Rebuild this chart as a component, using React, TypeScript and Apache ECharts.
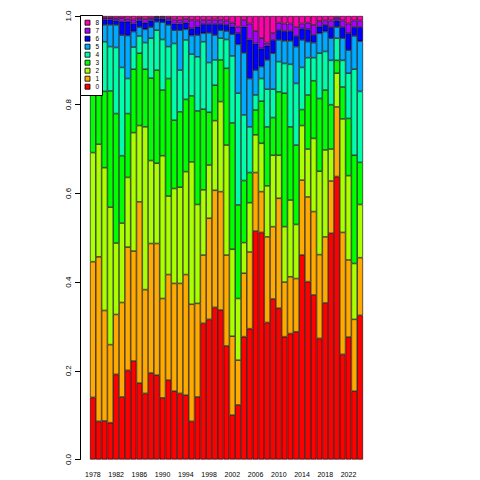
import React, { useEffect, useRef } from "react";
import * as echarts from "echarts";

const years = ["1978","1979","1980","1981","1982","1983","1984","1985","1986","1987","1988","1989","1990","1991","1992","1993","1994","1995","1996","1997","1998","1999","2000","2001","2002","2003","2004","2005","2006","2007","2008","2009","2010","2011","2012","2013","2014","2015","2016","2017","2018","2019","2020","2021","2022","2023","2024"];
const groups = ["0","1","2","3","4","5","6","7","8"];
const colors = ["#FF0000","#FFAA00","#AAFF00","#00FF00","#00FFAA","#00AAFF","#0000FF","#AA00FF","#FF00AA"];
const yTickLabels = ["0.0","0.2","0.4","0.6","0.8","1.0"];

const share0 = [.140,.086,.087,.083,.192,.141,.201,.222,.172,.149,.195,.190,.139,.179,.154,.149,.145,.086,.141,.307,.316,.343,.337,.256,.100,.123,.277,.295,.515,.512,.309,.362,.341,.277,.284,.288,.461,.401,.371,.273,.353,.510,.638,.237,.276,.154,.325];
const share1 = [.306,.371,.249,.176,.135,.213,.278,.248,.409,.234,.292,.297,.224,.238,.243,.248,.272,.264,.211,.154,.228,.264,.267,.205,.178,.101,.143,.173,.132,.092,.193,.163,.248,.123,.128,.120,.169,.191,.188,.189,.149,.118,.157,.275,.174,.162,.130];
const share2 = [.246,.254,.322,.310,.161,.179,.157,.267,.172,.367,.187,.181,.322,.177,.214,.217,.232,.321,.223,.147,.120,.157,.203,.248,.196,.139,.069,.111,.085,.109,.115,.161,.097,.125,.173,.122,.123,.108,.165,.188,.196,.072,.076,.256,.190,.126,.120];
const share3 = [.178,.149,.172,.262,.292,.152,.144,.143,.163,.130,.186,.210,.148,.265,.154,.170,.163,.149,.211,.182,.119,.080,.094,.173,.285,.211,.140,.068,.056,.095,.133,.085,.143,.301,.165,.179,.036,.122,.130,.164,.135,.100,.029,.072,.129,.244,.095];
const share4 = [.065,.070,.112,.100,.149,.199,.079,.050,.039,.060,.090,.090,.114,.072,.173,.094,.134,.094,.122,.152,.112,.057,.049,.065,.151,.252,.148,.103,.034,.051,.085,.064,.068,.067,.141,.139,.095,.084,.052,.102,.087,.100,.050,.060,.102,.194,.160];
const share5 = [.040,.040,.038,.049,.051,.073,.097,.035,.020,.030,.025,.019,.039,.049,.030,.090,.024,.042,.049,.019,.067,.056,.018,.019,.049,.110,.140,.109,.056,.027,.066,.081,.049,.051,.053,.083,.062,.036,.034,.045,.045,.050,.025,.050,.052,.075,.113];
const share6 = [.013,.015,.012,.012,.010,.030,.031,.018,.015,.015,.015,.008,.008,.010,.015,.015,.015,.016,.019,.021,.020,.025,.014,.014,.017,.025,.059,.088,.060,.041,.032,.030,.022,.022,.022,.024,.026,.028,.017,.015,.015,.025,.015,.025,.038,.020,.032];
const share7 = [.007,.008,.004,.004,.005,.008,.007,.009,.005,.008,.005,.003,.003,.005,.009,.008,.008,.019,.014,.009,.009,.010,.009,.010,.009,.015,.015,.036,.028,.023,.007,.015,.017,.017,.017,.020,.011,.015,.023,.012,.010,.015,.006,.015,.022,.015,.015];
const share8 = [.005,.007,.004,.004,.005,.005,.006,.008,.005,.007,.005,.002,.003,.005,.008,.009,.007,.009,.010,.009,.009,.008,.009,.010,.015,.024,.009,.017,.034,.050,.060,.039,.015,.017,.017,.025,.017,.015,.020,.012,.010,.010,.004,.010,.017,.010,.010];

const shares = [share0, share1, share2, share3, share4, share5, share6, share7, share8];
const FONT = "Liberation Sans, Arial, Helvetica, sans-serif";

export default function App() {
  const ref = useRef<HTMLDivElement>(null);
  useEffect(() => {
    if (!ref.current) return;
    const chart = echarts.init(ref.current, undefined, { renderer: "svg" });
    const series = groups.map((g, i) => ({
      name: g,
      type: "bar",
      stack: "all",
      data: shares[i],
      barCategoryGap: "0%",
      itemStyle: { color: colors[i], borderColor: "#000", borderWidth: 0.6 },
      emphasis: { disabled: true },
    }));
    const legendItems: any[] = [
      { type: "rect", shape: { x: 80.5, y: 15.5, width: 22, height: 80 }, style: { fill: "#fff", stroke: "#000", lineWidth: 1 }, z: 100 },
    ];
    const order = groups.slice().reverse();
    order.forEach((g, j) => {
      const idx = groups.indexOf(g);
      const cy = 22.7 + 8 * j;
      legendItems.push({ type: "rect", shape: { x: 85, y: cy - 2.5, width: 5, height: 5 }, style: { fill: colors[idx], stroke: "#000", lineWidth: 0.8 }, z: 101 });
      legendItems.push({ type: "text", x: 97.3, y: cy, style: { text: g, fontSize: 6.5, fontFamily: FONT, fill: "#000", align: "center", verticalAlign: "middle" }, z: 101 });
    });
    chart.setOption({
      animation: false,
      backgroundColor: "#fff",
      grid: { left: 90, right: 117, top: 16, bottom: 20.5, containLabel: false },
      xAxis: {
        type: "category",
        data: years,
        axisLine: { show: false },
        axisTick: { show: false },
        axisLabel: { interval: 3, fontSize: 7, color: "#000", margin: 11, fontFamily: FONT },
      },
      yAxis: {
        type: "value",
        min: 0,
        max: 1,
        interval: 0.2,
        offset: 10,
        axisLine: { show: true, lineStyle: { color: "#000", width: 1 } },
        axisTick: { show: true, length: 5, lineStyle: { color: "#000" } },
        splitLine: { show: false },
        axisLabel: {
          rotate: 90,
          fontSize: 8,
          color: "#000",
          margin: 8,
          fontFamily: FONT,
          align: "center",
          verticalAlign: "bottom",
          formatter: (v: number) => yTickLabels[Math.round(v / 0.2)],
        },
      },
      series,
      graphic: legendItems,
    });
    return () => chart.dispose();
  }, []);
  return <div ref={ref} style={{ position: "fixed", left: 0, top: 0, width: 480, height: 480, background: "#fff" }} />;
}
